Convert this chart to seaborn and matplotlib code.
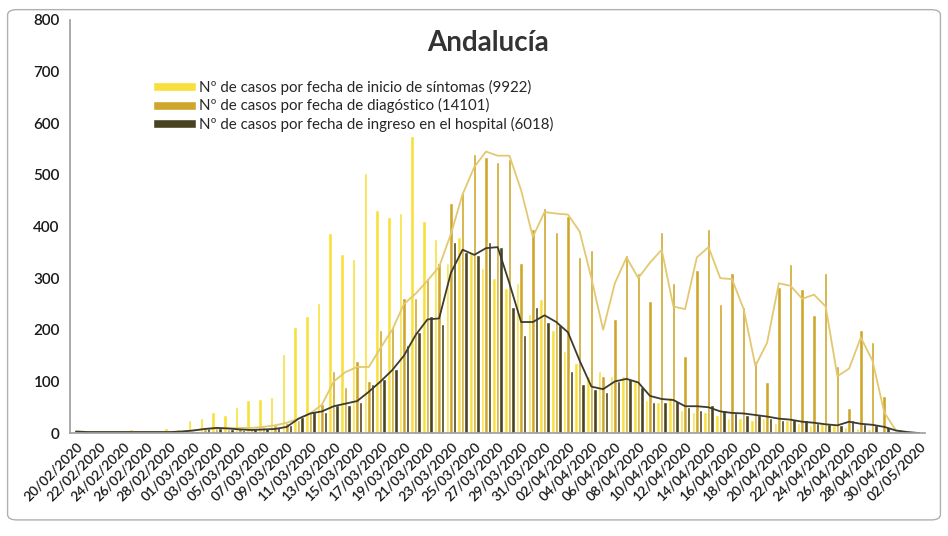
"""
Gráfico: casos COVID-19 en Andalucía por fecha (síntomas, diagnóstico, ingreso)
"""

import matplotlib
matplotlib.use("Agg")

import matplotlib.pyplot as plt
from matplotlib.patches import FancyBboxPatch
import seaborn as sns
import pandas as pd
import numpy as np

sns.set_theme(style="white")
plt.rcParams["font.family"] = ["Lato", "DejaVu Sans"]

# fechas: 20/02/2020 .. 02/05/2020, un valor por día
fechas = pd.date_range("2020-02-20", "2020-05-02", freq="D").strftime("%d/%m/%Y").tolist()

sintomas = [
    4, 6, 3, 2, 5, 8, 4, 6, 9, 7,
    25, 30, 40, 35, 50,
    64, 66, 70, 154, 206, 226, 251, 387, 347, 337, 503, 431, 418, 427, 575,
    410, 375, 330, 380, 350, 320, 300, 280, 290, 230, 260, 200,
    158, 135, 110, 120, 110, 110, 100, 65, 60, 70, 45, 40, 40, 35, 30, 30,
    25, 30, 20, 25, 20, 15, 20, 15, 12, 10, 8, 5, 3, 2, 1,
]
diagnostico = [
    3, 2, 2, 3, 2, 2, 3, 2, 2, 3, 5, 8, 10, 8, 10,
    10, 12, 15, 20, 25, 40, 57,
    120, 90, 140, 100, 200, 205, 262, 262,
    300, 330, 445, 465, 540, 535, 525, 530,
    330, 395, 435, 390, 420, 340, 355, 110,
    220, 345, 310, 255, 390, 290, 150, 315,
    395, 250, 310, 245, 140, 99, 282, 328,
    278, 229, 309, 130, 49, 200, 177, 72, 0, 0, 0,
]
hospital = [
    3, 2, 2, 2, 1, 2, 2, 1, 2, 3, 5, 10, 12, 8, 6,
    8, 10, 12, 15, 32, 40, 40,
    55, 55, 60, 95, 105, 125, 170, 195,
    226, 212, 370, 350, 345, 370, 360, 245,
    190, 245, 215, 210,
    120, 95, 85, 80, 100, 105, 90, 60, 60, 62, 50, 45, 55, 45, 38, 35,
    35, 30, 25, 28, 25, 20, 18, 15, 25, 18, 15, 12, 5, 2, 0,
]
# líneas de tendencia
linea_diag = [
    3, 2, 2, 2, 2, 2, 2, 2, 2, 3, 5, 8, 9, 9, 10,
    10, 12, 15, 20, 28, 38, 55,
    100, 118, 128, 128, 165, 200, 250, 270,
    295, 322, 385, 462, 515, 545, 537, 537,
    470, 380, 428, 425,
    423, 390, 300, 200, 290, 340, 300, 330, 355, 245, 240, 340, 360, 300, 298, 240,
    130, 175, 290, 285, 260, 268, 245, 110, 125, 185, 140, 40, 5, 0, 0,
]
linea_hosp = [
    3, 2, 2, 2, 2, 2, 2, 2, 2, 3, 5, 8, 10, 9, 7,
    6, 7, 8, 12, 28, 38, 42,
    52, 57, 62, 80, 100, 122, 150, 190,
    220, 222, 310, 355, 345, 358, 360, 290,
    215, 215, 228, 215,
    195, 140, 90, 85, 100, 105, 98, 72, 66, 64, 52, 52, 50, 42, 39, 38,
    35, 32, 28, 26, 22, 20, 17, 15, 22, 18, 16, 12, 5, 2, 0,
]

series = [
    "Nº de casos por fecha de inicio de síntomas (9922)",
    "Nº de casos por fecha de diagóstico (14101)",
    "Nº de casos por fecha de ingreso en el hospital (6018)",
]
colores = ["#F8DF3A", "#CFA62C", "#4A4322"]

df = pd.DataFrame({
    "fecha": fechas * 3,
    "casos": sintomas + diagnostico + hospital,
    "serie": [series[0]] * len(fechas) + [series[1]] * len(fechas) + [series[2]] * len(fechas),
})

fig = plt.figure(figsize=(9.48, 5.36), dpi=100)
ax = fig.add_axes([0.074, 0.192, 0.902, 0.771])

sns.barplot(data=df, x="fecha", y="casos", hue="serie", hue_order=series,
            palette=colores, saturation=1, width=0.9, dodge=True, ax=ax)

x = np.arange(len(fechas))
ax.plot(x, linea_diag, color="#E3C870", linewidth=1.3)
ax.plot(x, linea_hosp, color="#3C3B30", linewidth=1.3)

ax.set_xlim(-0.5, len(fechas) - 0.5)
ax.set_ylim(0, 800)
ax.set_yticks(range(0, 801, 100))
ax.tick_params(axis="y", labelsize=11, colors="#1A1A1A", length=4, color="#A0A0A0")
for t in ax.get_yticklabels():
    t.set_fontweight("semibold")
ax.set_xticks(x[::2])
ax.set_xticklabels(fechas[::2], rotation=45, ha="right", rotation_mode="anchor",
                   fontsize=10, color="#1A1A1A", fontweight="semibold")
ax.tick_params(axis="x", length=3, color="#A0A0A0", pad=2)
ax.set_xlabel("")
ax.set_ylabel("")

sns.despine(ax=ax)
for s in ["left", "bottom"]:
    ax.spines[s].set_color("#A0A0A0")

ax.legend(loc="upper left", bbox_to_anchor=(0.155, 0.862), bbox_transform=fig.transFigure,
          frameon=False, fontsize=10.8, handlelength=2.9, handleheight=0.55,
          handletextpad=0.15, labelspacing=0.22, borderaxespad=0)

fig.text(0.515, 0.92, "Andalucía", ha="center", va="center",
         fontsize=20, fontweight="bold", color="#333333")

borde = FancyBboxPatch((0.008, 0.03), 0.984, 0.952, boxstyle="round,pad=0,rounding_size=0.01",
                       transform=fig.transFigure, fill=False, edgecolor="#B0B0B0", linewidth=1)
fig.patches.append(borde)

plt.savefig("out.png", dpi=100)
plt.close()
